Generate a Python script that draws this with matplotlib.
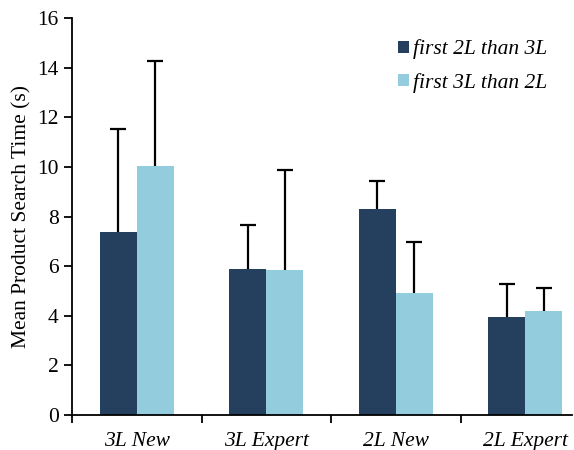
import matplotlib.pyplot as plt
import numpy as np

categories = ["3L New", "3L Expert", "2L New", "2L Expert"]
series_names = ["first 2L than 3L", "first 3L than 2L"]
first_2l = [7.37, 5.88, 8.31, 3.96]
first_2l_err = [4.15, 1.78, 1.13, 1.34]
first_3l = [10.03, 5.85, 4.91, 4.21]
first_3l_err = [4.25, 4.02, 2.08, 0.90]

plt.rcParams["font.family"] = ["Liberation Serif", "DejaVu Serif"]

fig = plt.figure(figsize=(5.74, 4.5), dpi=100)
ax = fig.add_axes([0.1254, 0.0778, 0.871, 0.882])

x = np.arange(len(categories))
w = 0.286


def bars_with_upper_err(pos, vals, errs, color, label):
    ax.bar(pos, vals, w, color=color, label=label, zorder=2)
    tops = np.array(vals) + np.array(errs)
    # whisker only above the bar, one cap at the top
    ax.vlines(pos, vals, tops, color="black", linewidth=1.6, zorder=3)
    ax.plot(pos, tops, linestyle="none", marker="_", markersize=12,
            markeredgewidth=1.6, color="black", zorder=3)


bars_with_upper_err(x - w / 2, first_2l, first_2l_err, "#253f5f", series_names[0])
bars_with_upper_err(x + w / 2, first_3l, first_3l_err, "#93cddd", series_names[1])

ax.set_ylim(0, 16)
ax.set_yticks(range(0, 17, 2))
ax.set_xlim(-0.5, 3.36)
ax.set_xticks(np.arange(-0.5, 3.5, 1.0))
ax.set_xticklabels([])
ax.set_xticks(x, minor=True)
ax.set_xticklabels(categories, minor=True, style="italic", fontsize=15.5)
ax.tick_params(axis="x", which="minor", length=0, pad=12)
ax.tick_params(axis="x", which="major", length=6, width=1.3, direction="out")
ax.tick_params(axis="y", length=6, width=1.3, direction="out", labelsize=15.5)

for side in ["top", "right"]:
    ax.spines[side].set_visible(False)
for side in ["left", "bottom"]:
    ax.spines[side].set_linewidth(1.3)

ax.set_ylabel("Mean Product Search Time (s)", fontsize=15.5, labelpad=4)

ax.legend(loc="upper right", bbox_to_anchor=(0.99, 0.995), frameon=False,
          prop={"style": "italic", "size": 15.5}, handlelength=0.5,
          handleheight=0.5, handletextpad=0.2, labelspacing=0.62)

fig.savefig("out.png", dpi=100)
